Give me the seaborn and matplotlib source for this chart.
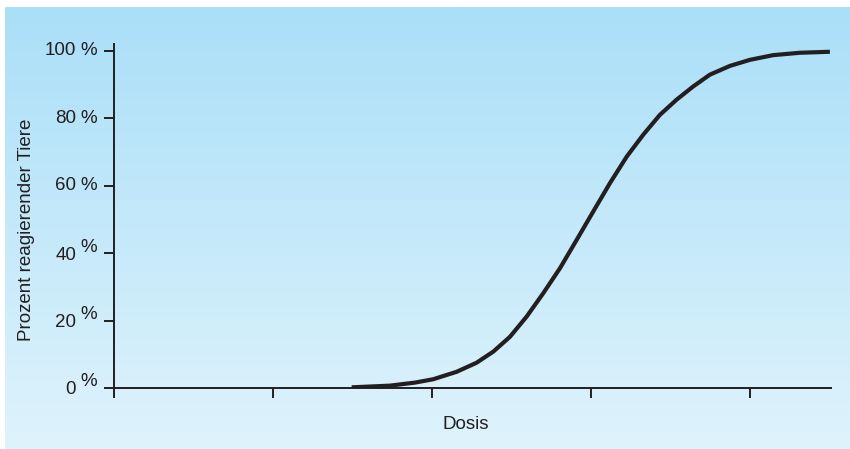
import numpy as np
import pandas as pd
import matplotlib.pyplot as plt
import seaborn as sns

# dose (in tick units) and percent of responding animals
dose = [1.495, 1.736, 1.893, 2.008, 2.155, 2.281, 2.386, 2.491, 2.596, 2.700,
        2.805, 2.910, 3.014, 3.119, 3.225, 3.329, 3.434, 3.539, 3.643, 3.748,
        3.874, 4.000, 4.147, 4.314, 4.503]
percent = [0.2, 0.7, 1.6, 2.6, 4.8, 7.5, 10.8, 15.2, 21.2, 28.1,
           35.5, 43.9, 52.3, 60.7, 68.6, 75.1, 81.0, 85.5, 89.4, 92.9,
           95.5, 97.3, 98.7, 99.4, 99.7]

y_ticks = [0, 20, 40, 60, 80, 100]
y_tick_labels = ["0", "20", "40", "60", "80", "100"]
x_ticks = [0, 1, 2, 3, 4]

INK = "#231f20"
FS = 13.5

sns.set_theme(style="white")
plt.rcParams["font.family"] = ["Liberation Sans", "DejaVu Sans"]

W, H = 850, 449
fig = plt.figure(figsize=(W / 100, H / 100), dpi=100)

# blue gradient panel behind everything
bg = fig.add_axes([5 / W, 0, (W - 5) / W, (H - 7) / H], zorder=-1)
top = np.array([170, 223, 248]) / 255
bottom = np.array([223, 243, 252]) / 255
t = np.linspace(0, 1, 256)[:, None]
grad = top[None, :] * (1 - t) + bottom[None, :] * t
bg.imshow(grad[:, None, :], aspect="auto", extent=[0, 1, 0, 1])
bg.set_axis_off()

ax = fig.add_axes([114 / W, (H - 388) / H, (831 - 114) / W, (388 - 44) / H])
ax.set_facecolor("none")

df = pd.DataFrame({"Dosis": dose, "Prozent": percent})
sns.lineplot(data=df, x="Dosis", y="Prozent", ax=ax, color=INK, linewidth=3,
             solid_capstyle="butt", solid_joinstyle="round")

ax.set_xlim(0, 4.51)
ax.set_ylim(0, 102)
ax.set_xticks(x_ticks)
ax.set_yticks(y_ticks)
ax.tick_params(axis="both", direction="out", length=7.2, width=1.4,
               color=INK, labelleft=False, labelbottom=False,
               left=True, bottom=True)
for side in ["top", "right"]:
    ax.spines[side].set_visible(False)
for side in ["left", "bottom"]:
    ax.spines[side].set_color(INK)
    ax.spines[side].set_linewidth(1.4)

# tick labels: number and "%" set apart; on the lower three the % sits raised
label_kw = dict(xycoords=("axes fraction", "data"), textcoords="offset pixels",
                fontsize=FS, color=INK, va="center")
for v, lab in zip(y_ticks, y_tick_labels):
    raised = v <= 40
    num_dy = -2 if raised else 0
    pct_dy = 6 if raised else 0
    ax.annotate(lab, xy=(0, v), xytext=(-38, num_dy), ha="right", **label_kw)
    ax.annotate("%", xy=(0, v), xytext=(-17, pct_dy), ha="right", **label_kw)

ax.set_xlabel("Dosis", fontsize=FS, color=INK)
ax.set_ylabel("Prozent reagierender Tiere", fontsize=FS, color=INK)
ax.xaxis.set_label_coords(0.49, -0.082)
ax.yaxis.set_label_coords(-0.110, 0.46)

fig.savefig("out.png", dpi=100)
